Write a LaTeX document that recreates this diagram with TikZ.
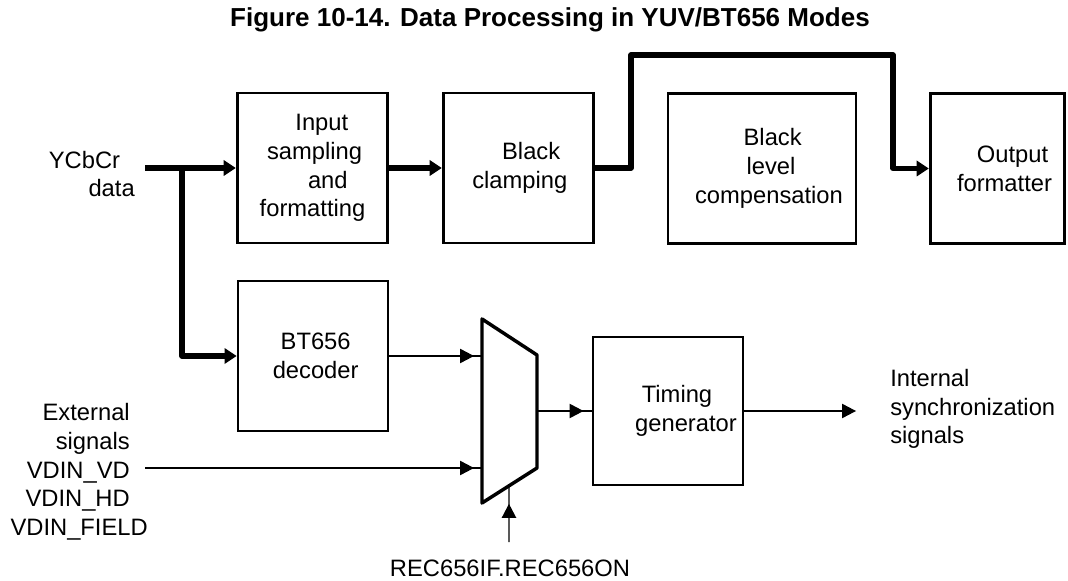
\documentclass[tikz,border=0pt]{standalone}
\usepackage{fontspec}
\setmainfont{Liberation Sans}
\usetikzlibrary{arrows.meta,decorations.markings,calc}
\newcommand{\lpad}[1]{\hspace*{#1pt}}
\tikzset{
  blk/.style={rectangle,draw=black,line width=2.2pt,minimum width=113pt,
              minimum height=112.5pt,inner sep=0pt,align=center,
              font=\fontsize{17.8}{21.5}\selectfont},
  lbl/.style={inner sep=0pt,font=\fontsize{17.8}{21.5}\selectfont},
  bus/.style={line width=4pt,line join=round,
              -{Triangle[length=9pt,width=12pt,line width=0pt]}},
  sig/.style={line width=1pt,postaction={decorate},
              decoration={markings,mark=at position -#1 with
                {\arrow{Triangle[length=10.5pt,width=11pt,line width=0pt]}}}},
  sig/.default=6pt,
  sigend/.style={line width=1pt,-{Triangle[length=10.5pt,width=11pt,line width=0pt]}},
  muxline/.style={line width=2.6pt,line join=round},
}
\begin{document}
\begin{tikzpicture}[x=0.75pt,y=-0.75pt]
\useasboundingbox (0,0) rectangle (1068,581);
% title
\node[anchor=base,font=\fontsize{19.5}{23}\selectfont\bfseries] (title) at (550,27)
  {Figure 10-14. Data Processing in YUV/BT656 Modes};

% top row
\node[blk] (insamp) at (312.5,168)
  {\lpad{14}Input\\\lpad{3}sampling\\\lpad{23}and\\formatting};
\node[blk] (clamp) at (518.5,168) {\lpad{19}Black\\\lpad{2}clamping};
\node[blk,minimum width=141pt] (blcomp) at (762,168.5)
  {\lpad{16}Black\\\lpad{13.5}level\\\lpad{10.5}compensation};
\node[blk,minimum width=101pt] (outfmt) at (997.5,168.5)
  {\lpad{22.5}Output\\\lpad{10.5}formatter};

% bottom row
\node[blk,minimum width=112.5pt] (bt) at (313,356) {\lpad{4}BT656\\\lpad{4}decoder};
\node[blk,minimum width=112.5pt,minimum height=111pt] (timing) at (668,411)
  {\lpad{13.5}Timing\\\lpad{27}generator};

% multiplexer
\coordinate (muxa) at (482,319);
\coordinate (muxb) at (537,355);
\coordinate (muxc) at (537,468);
\coordinate (muxd) at (482,503);
\draw[muxline] (muxa) -- (muxb) -- (muxc) -- (muxd) -- cycle;
\coordinate (muxin1) at (482,356);
\coordinate (muxin2) at (482,468);
\coordinate (muxout) at (537,411);
\coordinate (muxsel) at ($(muxd)!0.49!(muxc)$);

% outside labels
\node[lbl,align=right,anchor=east] (ycbcr) at (135,174) {YCbCr\hspace*{11pt}\\data};
\node[lbl,align=right,anchor=east] (extsig) at (130,472)
  {External\\signals\\VDIN\_VD\\VDIN\_HD\\VDIN\_FIELD\hspace*{-13.5pt}};
\node[lbl,align=left,anchor=west] (intsync) at (890,409)
  {Internal\\synchronization\\signals};
\node[lbl,anchor=base] (recon) at (510,576) {REC656IF.REC656ON};

% data path
\coordinate (din) at (145,168);
\coordinate (tap) at (182,168);
\coordinate (up1) at (631,55);
\coordinate (up2) at (893,55);
\draw[bus] (din) -- (insamp.west);
\draw[bus] (tap) |- (bt.west);
\draw[bus] (insamp.east) -- (clamp.west);
\draw[bus] (clamp.east) -| (up1) -- (up2) |- (outfmt.west);

% sync path
\coordinate (ext) at (145,468);
\coordinate (sync) at (856,411);
\coordinate (sel) at (509,542);
\draw[sig] (bt.east) -- (muxin1);
\draw[sig] (ext) -- (muxin2);
\draw[sig] (muxout) -- (timing.west);
\draw[sigend] (timing.east) -- (sync);
\draw[sig=13.5pt] (sel) -- (muxsel);
\end{tikzpicture}
\end{document}
